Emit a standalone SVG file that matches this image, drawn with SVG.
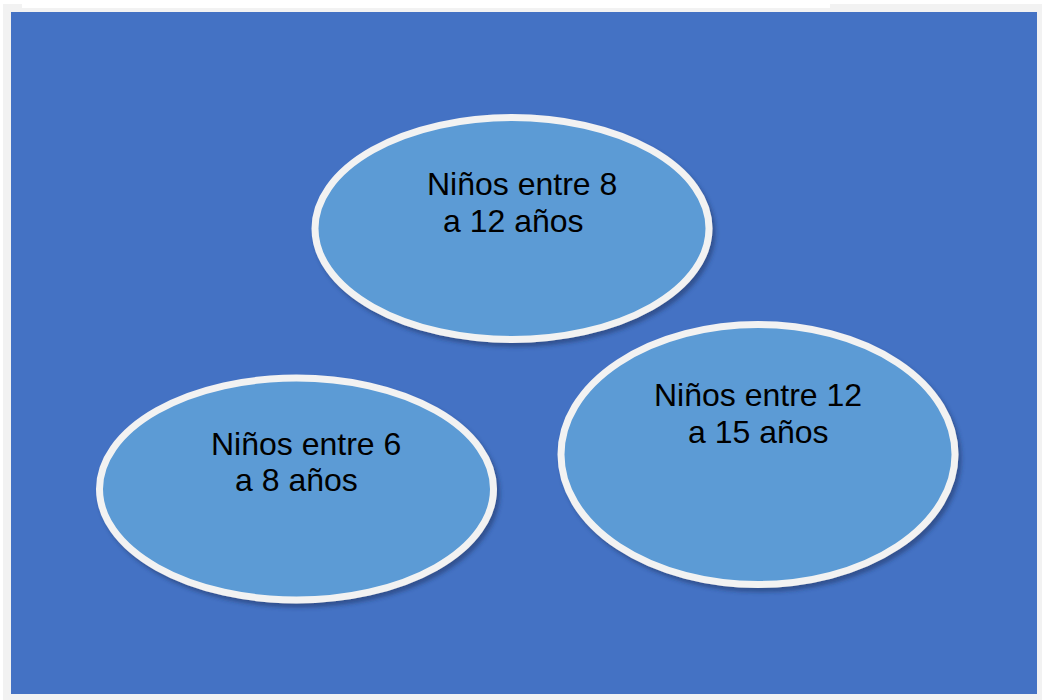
<svg xmlns="http://www.w3.org/2000/svg" width="1042" height="700" viewBox="0 0 1042 700">
<style>
.bubble{fill:#5b9bd5;stroke:#f2f2f2;stroke-width:7;filter:url(#sh)}
.lbl{font-family:"Liberation Sans",Arial,sans-serif;font-size:32px;fill:#000}
</style>
<defs>
<filter id="sh" x="-10%" y="-10%" width="125%" height="130%">
<feDropShadow dx="3" dy="4" stdDeviation="2" flood-color="#1f3864" flood-opacity="0.55"/>
</filter>
</defs>
<rect x="0" y="0" width="1042" height="700" fill="#ffffff"/>
<rect x="3" y="4" width="1039" height="696" fill="#f2f2f2"/>
<rect x="22" y="4" width="808" height="4" fill="#ffffff"/>
<rect x="11" y="12" width="1026" height="682" fill="#4472c4"/>
<g id="connectors"></g>
<g id="node-8-12">
<ellipse class="bubble" cx="512" cy="228.5" rx="197" ry="111"/>
<text class="lbl" x="427" y="195">Niños entre 8</text>
<text class="lbl" x="443" y="232">a 12 años</text>
</g>
<g id="node-12-15">
<ellipse class="bubble" cx="758" cy="454.5" rx="197" ry="130"/>
<text class="lbl" x="654" y="406">Niños entre 12</text>
<text class="lbl" x="688" y="443">a 15 años</text>
</g>
<g id="node-6-8">
<ellipse class="bubble" cx="296.5" cy="489" rx="197" ry="111"/>
<text class="lbl" x="211" y="455">Niños entre 6</text>
<text class="lbl" x="235" y="491">a 8 años</text>
</g>
</svg>
